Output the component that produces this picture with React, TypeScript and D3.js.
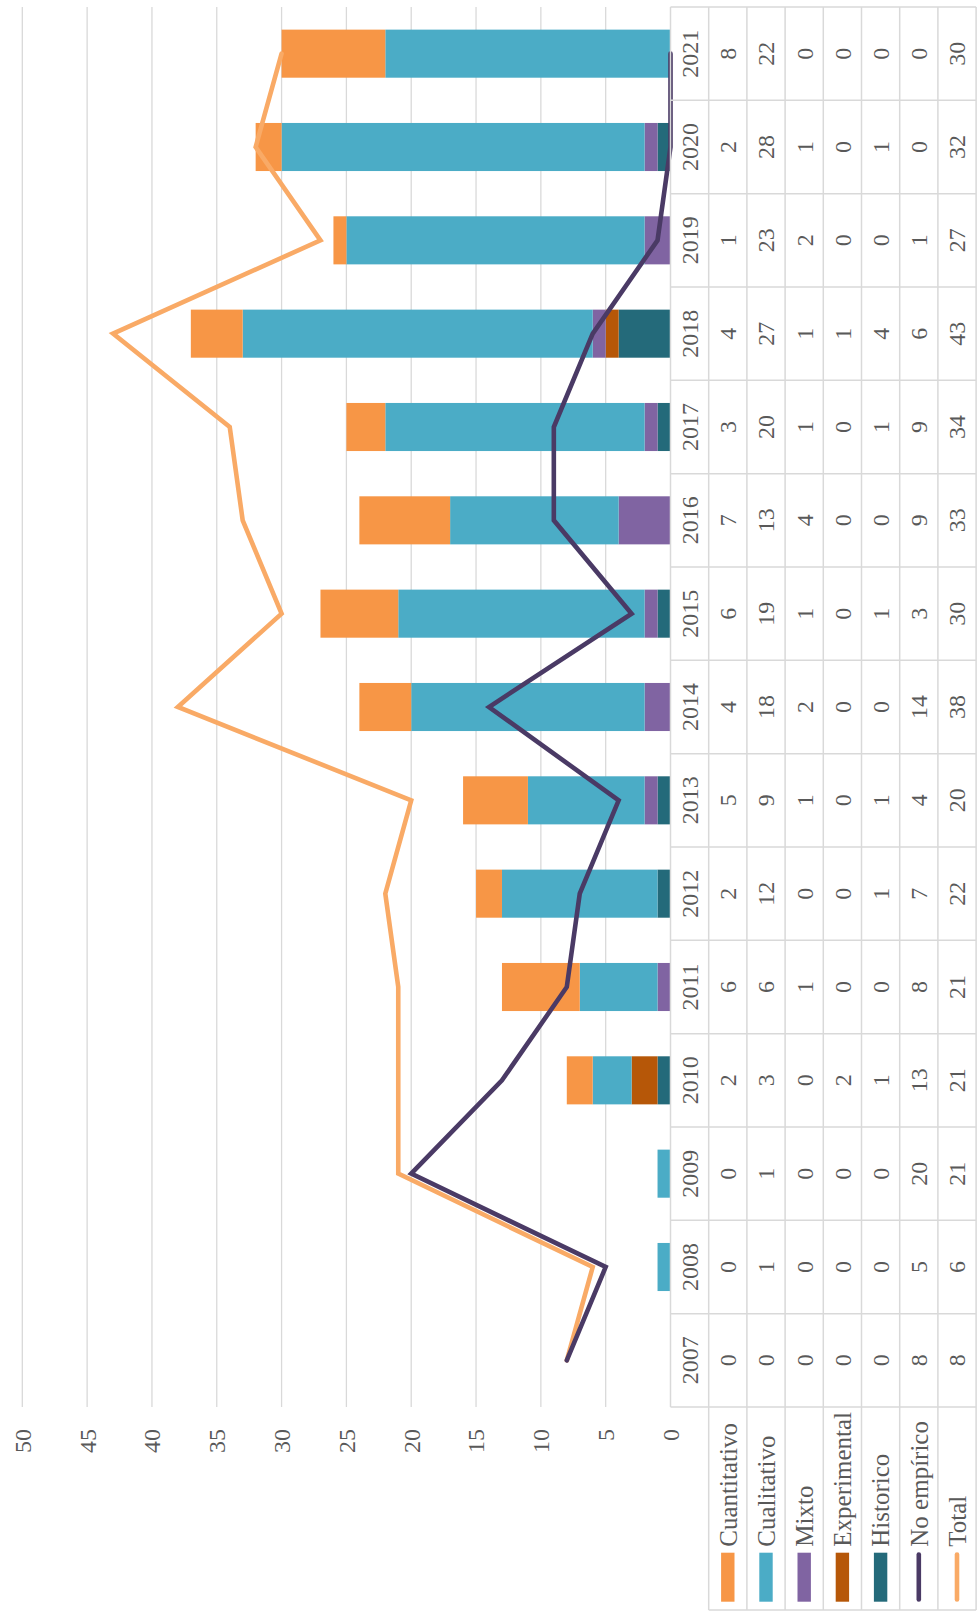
import React, { useEffect, useRef } from 'react';
import * as d3 from 'd3';

const years = ['2007', '2008', '2009', '2010', '2011', '2012', '2013', '2014', '2015', '2016', '2017', '2018', '2019', '2020', '2021'];
const cuantitativo = [0, 0, 0, 2, 6, 2, 5, 4, 6, 7, 3, 4, 1, 2, 8];
const cualitativo = [0, 1, 1, 3, 6, 12, 9, 18, 19, 13, 20, 27, 23, 28, 22];
const mixto = [0, 0, 0, 0, 1, 0, 1, 2, 1, 4, 1, 1, 2, 1, 0];
const experimental = [0, 0, 0, 2, 0, 0, 0, 0, 0, 0, 0, 1, 0, 0, 0];
const historico = [0, 0, 0, 1, 0, 1, 1, 0, 1, 0, 1, 4, 0, 1, 0];
const noEmpirico = [8, 5, 20, 13, 8, 7, 4, 14, 3, 9, 9, 6, 1, 0, 0];
const total = [8, 6, 21, 21, 21, 22, 20, 38, 30, 33, 34, 43, 27, 32, 30];
const yTicks = [0, 5, 10, 15, 20, 25, 30, 35, 40, 45, 50];

const series = [
    { name: 'Cuantitativo', values: cuantitativo, color: '#F79646', type: 'bar' },
    { name: 'Cualitativo', values: cualitativo, color: '#4BACC6', type: 'bar' },
    { name: 'Mixto', values: mixto, color: '#8064A2', type: 'bar' },
    { name: 'Experimental', values: experimental, color: '#B65708', type: 'bar' },
    { name: 'Historico', values: historico, color: '#246A7A', type: 'bar' },
    { name: 'No empírico', values: noEmpirico, color: '#4A3A65', type: 'line' },
    { name: 'Total', values: total, color: '#F9AA66', type: 'line' },
];

// stack order from the zero line outwards
const stackOrder = ['Historico', 'Experimental', 'Mixto', 'Cualitativo', 'Cuantitativo'];

const App = () => {
    const ref = useRef<SVGSVGElement>(null);

    useEffect(() => {
        // chart is drawn unrotated (1616 x 980), then turned 90deg counter-clockwise
        const W = 1616;
        const plotLeft = 209;
        const plotRight = 1609;
        const tableTop = 670.5;
        const rowH = 38.2;
        const legendLeft = 6;
        const gridColor = '#D9D9D9';
        const textColor = '#595959';
        const font = '"Liberation Serif", serif';

        const svg = d3.select(ref.current);
        svg.selectAll('*').remove();
        const g = svg.append('g').attr('transform', `translate(0,${W}) rotate(-90)`);

        const x = d3.scaleBand().domain(years).range([plotLeft, plotRight]).padding(0);
        const y = d3.scaleLinear().domain([0, 50]).range([tableTop, 22.3]);
        const barW = x.bandwidth() * 0.515;
        const cx = (yr) => x(yr) + x.bandwidth() / 2;

        // gridlines
        g.append('g').selectAll('line').data(yTicks.filter((t) => t > 0)).enter()
            .append('line')
            .attr('x1', plotLeft).attr('x2', plotRight)
            .attr('y1', (d) => y(d)).attr('y2', (d) => y(d))
            .attr('stroke', gridColor).attr('stroke-width', 1.3);

        // tick labels
        g.append('g').selectAll('text').data(yTicks).enter()
            .append('text')
            .attr('x', 187).attr('y', (d) => y(d)).attr('dy', '0.35em')
            .attr('text-anchor', 'end')
            .attr('font-family', font).attr('font-size', 24).attr('fill', textColor)
            .text((d) => d);

        // stacked bars
        const rows = years.map((yr, i) => {
            const row = { year: yr };
            series.forEach((s) => { row[s.name] = s.values[i]; });
            return row;
        });
        const stacked = d3.stack().keys(stackOrder)(rows);
        const colorOf = (name) => series.find((s) => s.name === name).color;
        g.append('g').selectAll('g').data(stacked).enter()
            .append('g').attr('fill', (d) => colorOf(d.key))
            .selectAll('rect').data((d) => d).enter()
            .append('rect')
            .attr('x', (d) => cx(d.data.year) - barW / 2)
            .attr('width', barW)
            .attr('y', (d) => y(d[1]))
            .attr('height', (d) => y(d[0]) - y(d[1]));

        // lines
        const lineGen = d3.line().x((d) => d[0]).y((d) => d[1]);
        ['Total', 'No empírico'].forEach((name) => {
            const s = series.find((ss) => ss.name === name);
            g.append('path')
                .attr('d', lineGen(years.map((yr, i) => [cx(yr), y(s.values[i])])))
                .attr('fill', 'none').attr('stroke', s.color).attr('stroke-width', 4.6)
                .attr('stroke-linecap', 'round').attr('stroke-linejoin', 'miter');
        });

        // data table
        const table = g.append('g');
        const tableBottom = tableTop + rowH * (series.length + 1);
        const border = (x1, y1, x2, y2) => table.append('line')
            .attr('x1', x1).attr('y1', y1).attr('x2', x2).attr('y2', y2)
            .attr('stroke', gridColor).attr('stroke-width', 1.5);
        border(plotLeft, tableTop, plotRight, tableTop);
        for (let r = 1; r <= series.length + 1; r += 1) {
            border(legendLeft, tableTop + r * rowH, plotRight, tableTop + r * rowH);
        }
        years.forEach((yr) => border(x(yr), tableTop, x(yr), tableBottom));
        border(plotRight, tableTop, plotRight, tableBottom);
        border(legendLeft, tableTop + rowH, legendLeft, tableBottom);

        table.append('g').selectAll('text').data(years).enter()
            .append('text')
            .attr('x', (d) => cx(d)).attr('y', tableTop + rowH / 2).attr('dy', '0.35em')
            .attr('text-anchor', 'middle')
            .attr('font-family', font).attr('font-size', 24).attr('fill', textColor)
            .text((d) => d);

        series.forEach((s, r) => {
            const rowY = tableTop + rowH * (r + 1.5);
            table.append('g').selectAll('text').data(s.values).enter()
                .append('text')
                .attr('x', (d, i) => cx(years[i])).attr('y', rowY).attr('dy', '0.35em')
                .attr('text-anchor', 'middle')
                .attr('font-family', font).attr('font-size', 24).attr('fill', textColor)
                .text((d) => d);

            // legend key
            if (s.type === 'bar') {
                table.append('rect')
                    .attr('x', 14.3).attr('width', 49).attr('y', rowY - 6.7).attr('height', 13.4)
                    .attr('fill', s.color);
            } else {
                table.append('line')
                    .attr('x1', 16.5).attr('x2', 61.5).attr('y1', rowY).attr('y2', rowY)
                    .attr('stroke', s.color).attr('stroke-width', 4.6).attr('stroke-linecap', 'round');
            }
            table.append('text')
                .attr('x', 69.3).attr('y', rowY).attr('dy', '0.35em')
                .attr('font-family', font).attr('font-size', 25).attr('fill', textColor)
                .text(s.name);
        });
    }, []);

    return (
        <div>
            <style>{'body{margin:0;}'}</style>
            <svg ref={ref} width={980} height={1616} style={{ display: 'block', background: '#fff' }} />
        </div>
    );
};

export default App;
